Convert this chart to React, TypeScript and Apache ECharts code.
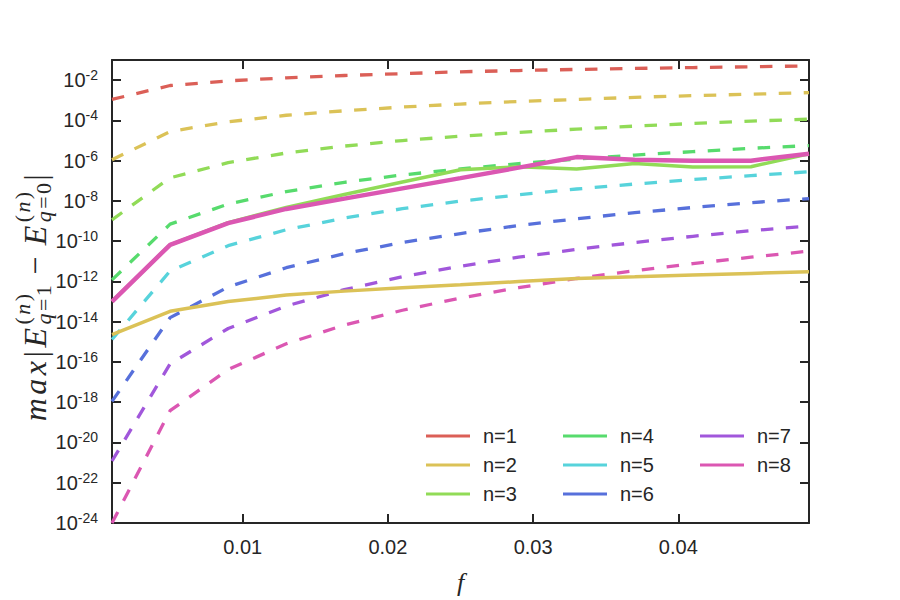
import React, { useEffect, useRef } from "react";
import * as echarts from "echarts";

// Frequency grid of the computation
const fValues = [0.001, 0.005, 0.009, 0.013, 0.017, 0.021, 0.025, 0.029, 0.033, 0.037, 0.041, 0.045, 0.049];

// Estimated error bounds (dashed), one list per order n
const boundN1 = [1.1e-3, 5.4e-3, 9.2e-3, 1.3e-2, 1.7e-2, 2.1e-2, 2.6e-2, 3.0e-2, 3.4e-2, 3.8e-2, 4.2e-2, 4.6e-2, 5.1e-2];
const boundN2 = [1.1e-6, 2.8e-5, 8.5e-5, 1.8e-4, 3.0e-4, 4.6e-4, 6.5e-4, 8.7e-4, 1.1e-3, 1.4e-3, 1.7e-3, 2.0e-3, 2.4e-3];
const boundN3 = [1.15e-9, 1.4e-7, 8.0e-7, 2.4e-6, 5.3e-6, 1.0e-5, 1.65e-5, 2.5e-5, 3.7e-5, 5.2e-5, 7.0e-5, 9.2e-5, 1.15e-4];
const boundN4 = [1.2e-12, 7.0e-10, 7.0e-9, 2.9e-8, 8.4e-8, 1.95e-7, 3.9e-7, 7.1e-7, 1.2e-6, 1.9e-6, 2.8e-6, 4.1e-6, 5.6e-6];
const boundN5 = [1.3e-15, 3.3e-12, 6.0e-11, 3.7e-10, 1.4e-9, 4.1e-9, 9.8e-9, 2.0e-8, 3.9e-8, 6.9e-8, 1.15e-7, 1.8e-7, 2.8e-7];
const boundN6 = [1.1e-18, 1.6e-14, 5.3e-13, 4.8e-12, 2.4e-11, 8.6e-11, 2.4e-10, 6.0e-10, 1.3e-9, 2.6e-9, 4.7e-9, 8.2e-9, 1.3e-8];
const boundN7 = [1.2e-21, 8.0e-17, 4.6e-15, 6.0e-14, 3.9e-13, 1.7e-12, 5.7e-12, 1.6e-11, 3.9e-11, 8.6e-11, 1.75e-10, 3.3e-10, 5.6e-10];
const boundN8 = [1.0e-24, 3.8e-19, 4.2e-17, 8.0e-16, 6.8e-15, 3.7e-14, 1.5e-13, 4.9e-13, 1.4e-12, 3.4e-12, 7.7e-12, 1.6e-11, 3.2e-11];

// Measured errors (solid)
const errN2 = [2.3e-15, 3.3e-14, 1.0e-13, 2.1e-13, 3.3e-13, 4.8e-13, 6.8e-13, 9.8e-13, 1.4e-12, 1.7e-12, 2.1e-12, 2.5e-12, 3.0e-12];
const errN3 = [1.0e-13, 6.6e-11, 8.3e-10, 4.7e-9, 2.1e-8, 8.7e-8, 3.5e-7, 5.0e-7, 3.8e-7, 7.2e-7, 4.8e-7, 5.0e-7, 2.2e-6];
const errN8 = [1.0e-13, 6.6e-11, 7.9e-10, 4.0e-9, 1.3e-8, 4.2e-8, 1.35e-7, 4.5e-7, 1.5e-6, 1.1e-6, 1.0e-6, 1.0e-6, 2.2e-6];

const orderNames = ["n=1", "n=2", "n=3", "n=4", "n=5", "n=6", "n=7", "n=8"];
const orderColors = ["#db5f57", "#dbc257", "#91db57", "#57db6d", "#57d3db", "#5770db", "#a157db", "#db57b2"];
const legendColumns = [["n=1", "n=2", "n=3"], ["n=4", "n=5", "n=6"], ["n=7", "n=8"]];

const xTicks = [0.01, 0.02, 0.03, 0.04];
const yTickExponents = [-24, -22, -20, -18, -16, -14, -12, -10, -8, -6, -4, -2];

const bounds = [boundN1, boundN2, boundN3, boundN4, boundN5, boundN6, boundN7, boundN8];
const measured: [number, number[]][] = [
  [1, errN2],
  [2, errN3],
  [7, errN8],
];

const INK = "#262626";
const SANS = '"Liberation Sans", Arial, sans-serif';
const SERIF = '"Liberation Serif", "Times New Roman", serif';

// y values are plotted as decimal exponents on a linear axis
const toPoints = (vals: number[]) => fValues.map((f, i) => [f, Math.log10(vals[i])]);

// Build the rotated math-style y axis title out of separate glyphs
function buildYTitle() {
  const canvas = document.createElement("canvas");
  const ctx = canvas.getContext("2d")!;
  const S = 32;
  const s = Math.round(S * 0.7);
  const track = 3.5;
  const measure = (t: string, size: number, italic: boolean) => {
    ctx.font = `${italic ? "italic " : ""}${size}px ${SERIF}`;
    return ctx.measureText(t).width;
  };
  type Run = [string, boolean];
  const children: any[] = [];
  let cursor = 0;
  const place = (runs: Run[], size: number, dy: number, startX: number) => {
    let x = startX;
    runs.forEach(([t, it]) => {
      const font = `${it ? "italic " : ""}${size}px ${SERIF}`;
      for (const ch of t) {
        children.push({
          type: "text",
          x,
          y: dy,
          style: {
            text: ch,
            font,
            fill: INK,
            align: "left",
            verticalAlign: "middle",
            textAlign: "left",
            textVerticalAlign: "middle",
          },
        });
        x += measure(ch, size, it) + (ch === " " ? 0 : track * (size / S));
      }
    });
    return x;
  };
  const script = (sup: Run[], sub: Run[]) => {
    const a = place(sup, s, -0.4 * S, cursor);
    const b = place(sub, s, 0.28 * S, cursor);
    cursor = Math.max(a, b);
  };
  cursor = place([["max", true]], S, 0, cursor);
  cursor = place([["|", false]], S, 0, cursor);
  cursor = place([["E", true]], S, 0, cursor);
  script([["(", false], ["n", true], [")", false]], [["q", true], ["=1", false]]);
  cursor = place([[" \u2212 ", false]], S, 0, cursor);
  cursor = place([["E", true]], S, 0, cursor);
  script([["(", false], ["n", true], [")", false]], [["q", true], ["=0", false]]);
  cursor = place([["|", false]], S, 0, cursor);
  const half = cursor / 2;
  children.forEach((c) => (c.x -= half));
  return { type: "group", x: 35, y: 296, rotation: Math.PI / 2, children };
}

export default function App() {
  const ref = useRef<HTMLDivElement>(null);

  useEffect(() => {
    if (!ref.current) return;
    const chart = echarts.init(ref.current, undefined, { renderer: "svg" });

    const frameLine = { show: true, onZero: false, lineStyle: { color: INK, width: 2 } };
    const tickStyle = { color: INK, width: 2 };

    const dashedSeries = bounds.map((vals, i) => ({
      name: orderNames[i],
      type: "line",
      data: toPoints(vals),
      symbol: "none",
      color: orderColors[i],
      lineStyle: { color: orderColors[i], width: 3.3, type: [12.5, 12.5] },
      z: 2,
    }));

    const solidSeries = measured.map(([idx, vals]) => ({
      name: orderNames[idx],
      type: "line",
      data: toPoints(vals),
      symbol: "none",
      color: orderColors[idx],
      lineStyle: { color: orderColors[idx], width: idx === 7 ? 4.5 : 3.5, type: "solid" },
      z: 3,
    }));

    const legendLefts = [426, 563, 700];

    chart.setOption({
      animation: false,
      backgroundColor: "#ffffff",
      grid: { left: 112, right: 91, top: 60, bottom: 76 },
      xAxis: [
        {
          type: "value",
          position: "bottom",
          min: 0.001,
          max: 0.049,
          axisLine: frameLine,
          axisTick: { show: true, inside: true, length: 9, customValues: xTicks, lineStyle: tickStyle },
          axisLabel: {
            customValues: xTicks,
            color: INK,
            fontSize: 20,
            fontFamily: SANS,
            margin: 14,
            formatter: (v: number) => v.toFixed(2),
          },
          splitLine: { show: false },
          name: "f",
          nameLocation: "middle",
          nameGap: 46,
          nameTextStyle: { color: INK, fontFamily: SERIF, fontStyle: "italic", fontSize: 26 },
        },
        {
          type: "value",
          position: "top",
          min: 0.001,
          max: 0.049,
          axisLine: frameLine,
          axisTick: { show: true, inside: true, length: 9, customValues: xTicks, lineStyle: tickStyle },
          axisLabel: { show: false },
          splitLine: { show: false },
        },
      ],
      yAxis: [
        {
          type: "value",
          position: "left",
          min: -24,
          max: -1,
          axisLine: frameLine,
          axisTick: { show: true, inside: true, length: 9, customValues: yTickExponents, lineStyle: tickStyle },
          axisLabel: {
            customValues: yTickExponents,
            margin: 14,
            formatter: (v: number) => `{b|10}{s|${v}}`,
            rich: {
              b: { fontSize: 20, fontFamily: SANS, color: INK },
              s: { fontSize: 14, fontFamily: SANS, color: INK, padding: [0, 0, 10, 0] },
            },
          },
          splitLine: { show: false },
        },
        {
          type: "value",
          position: "right",
          min: -24,
          max: -1,
          axisLine: frameLine,
          axisTick: { show: true, inside: true, length: 9, customValues: yTickExponents, lineStyle: tickStyle },
          axisLabel: { show: false },
          splitLine: { show: false },
        },
      ],
      legend: legendColumns.map((names, i) => ({
        data: names,
        orient: "vertical",
        left: legendLefts[i],
        top: 426,
        padding: 0,
        icon: "rect",
        itemWidth: 44,
        itemHeight: 3,
        itemGap: 9,
        selectedMode: false,
        textStyle: { fontSize: 20, fontFamily: SANS, color: INK, lineHeight: 20, padding: [0, 0, 0, 8] },
      })),
      series: [...dashedSeries, ...solidSeries],
      graphic: [buildYTitle()],
    });

    return () => chart.dispose();
  }, []);

  return (
    <div
      ref={ref}
      style={{ position: "fixed", left: 0, top: 0, width: 900, height: 600, background: "#fff" }}
    />
  );
}
